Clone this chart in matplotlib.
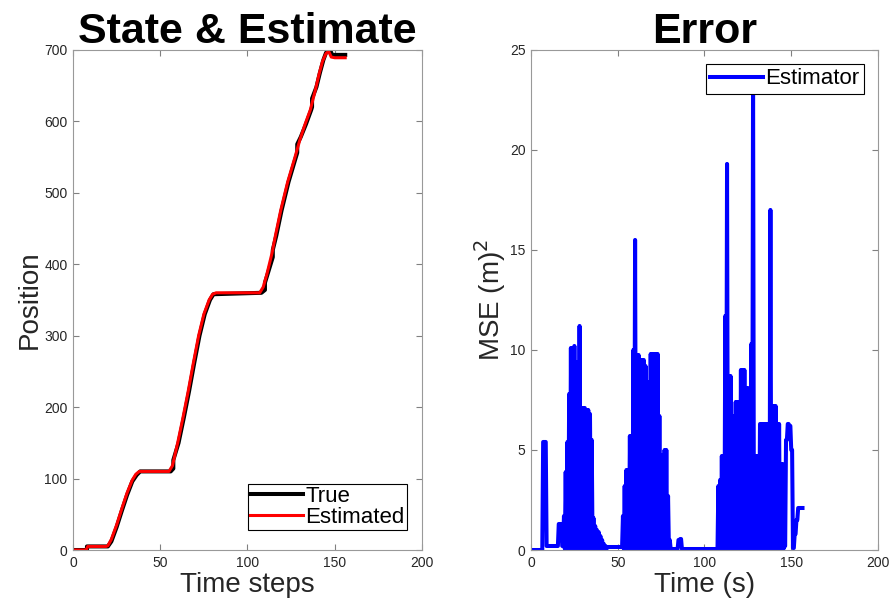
import numpy as np
import matplotlib
matplotlib.use("Agg")
import matplotlib.pyplot as plt

plt.rcParams['font.family'] = ['Liberation Sans', 'DejaVu Sans']

# left panel: true state (black) and estimate (red)
true_t = [0, 8, 8, 20, 22, 25, 28, 31, 34, 36.5, 38.5, 56, 57.5, 57.5, 60.5, 63.5, 66.5,
          69.5, 72.5, 75.5, 78.5, 80.5, 108, 110, 110, 114.5, 114.5, 116.5, 119.5, 123.5,
          127.5, 128.5, 128.5, 130.5, 133.5, 136.5, 137, 137, 139.5, 141.5, 143.5, 145,
          146.5, 147.5, 148.5, 156]
true_pos = [0, 0, 5, 5, 12, 32, 55, 77, 96, 105, 110, 110, 114, 126, 150, 185, 222,
            262, 300, 330, 350, 358, 360, 364, 374, 410, 420, 440, 475, 515,
            548, 556, 568, 578, 596, 616, 620, 632, 648, 668, 686, 696,
            699, 699, 693, 693]

est_t = [0, 7.5, 8.5, 19, 20, 22, 25, 28, 31, 34, 36, 38, 55, 57, 60, 63, 66, 69, 72, 75,
         78, 80, 82, 107, 109, 111, 114, 116, 119, 123, 127, 130, 133, 136, 139, 141, 143,
         145, 146.5, 148, 150, 156]
est_pos = [0, 0, 5, 5, 6, 15, 35, 58, 80, 98, 106, 110, 110, 118, 150, 185, 222, 262, 300, 330,
           350, 358, 360, 360, 368, 385, 415, 440, 475, 515, 548, 574, 596, 616, 645, 666, 684,
           695, 698, 690, 689, 689]

# right panel: MSE per time step (t = 0..156), upper and lower value within each step
mse_high = [0, 0, 0, 0, 0, 0, 0, 5.4, 5.4, 0.2,
            0.2, 0.2, 0.2, 0.2, 0.2, 0.2, 1.3, 1.3, 0.2, 1.7,
            3.9, 5.4, 7.8, 10.1, 10.1, 10.2, 9.4, 7.0, 11.2, 7.1,
            7.1, 7.1, 7.0, 7.0, 6.8, 5.5, 1.6, 1.2, 1.0, 0.9,
            0.7, 0.5, 0.3, 0.2, 0.15, 0.15, 0.15, 0.15, 0.15, 0.15,
            0.15, 0.15, 0.15, 1.7, 3.2, 4.0, 4.0, 5.7, 5.7, 10.0,
            15.5, 9.75, 9.75, 9.5, 9.5, 9.5, 9.2, 8.4, 8.4, 9.8,
            9.8, 9.8, 9.8, 9.8, 6.7, 4.75, 4.75, 5.0, 5.0, 2.7,
            0.5, 0.05, 0.05, 0.05, 0.05, 0.5, 0.55, 0.05, 0.05, 0.05,
            0.05, 0.05, 0.05, 0.05, 0.05, 0.05, 0.05, 0.05, 0.05, 0.05,
            0.05, 0.05, 0.05, 0.05, 0.05, 0.05, 0.05, 0.05, 3.2, 3.5,
            4.7, 4.7, 11.7, 19.3, 8.7, 8.7, 6.7, 6.7, 7.4, 7.4,
            7.4, 9.0, 9.0, 9.0, 8.1, 8.1, 4.7, 10.3, 24.0, 4.7,
            4.7, 4.7, 6.3, 6.3, 6.3, 6.3, 6.3, 6.3, 17.0, 7.2,
            7.2, 7.2, 6.3, 6.3, 4.3, 4.3, 0.2, 5.5, 6.3, 6.2,
            5.0, 0.1, 0.8, 1.5, 2.1, 2.1, 2.1]
mse_low = [0, 0, 0, 0, 0, 0, 0, 5.4, 5.4, 0.2,
           0.2, 0.2, 0.2, 0.2, 0.2, 0.2, 1.3, 1.3, 0.2, 0.05,
           0.05, 0.05, 0.05, 0.05, 0.05, 0.05, 0.05, 0.05, 0.05, 0.05,
           0.05, 0.05, 0.05, 0.05, 0.05, 0.05, 0.05, 0.05, 0.05, 0.05,
           0.05, 0.05, 0.05, 0.05, 0.15, 0.15, 0.15, 0.15, 0.15, 0.15,
           0.15, 0.15, 0.15, 0.05, 0.05, 0.05, 0.05, 0.05, 0.05, 0.05,
           0.05, 0.05, 0.05, 0.05, 0.05, 0.05, 0.05, 0.05, 0.05, 0.05,
           0.05, 0.05, 0.05, 0.05, 0.05, 0.05, 0.05, 0.05, 0.05, 0.05,
           0.05, 0.05, 0.05, 0.05, 0.05, 0.5, 0.55, 0.05, 0.05, 0.05,
           0.05, 0.05, 0.05, 0.05, 0.05, 0.05, 0.05, 0.05, 0.05, 0.05,
           0.05, 0.05, 0.05, 0.05, 0.05, 0.05, 0.05, 0.05, 0.05, 0.05,
           0.05, 0.05, 0.05, 0.05, 0.05, 0.05, 0.05, 0.05, 0.05, 0.05,
           0.05, 0.05, 0.05, 0.05, 0.05, 0.05, 0.05, 0.05, 0.05, 0.05,
           0.05, 0.05, 0.05, 0.05, 0.05, 0.05, 0.05, 0.05, 0.05, 0.05,
           0.05, 0.05, 0.05, 0.05, 0.05, 0.05, 0.2, 5.5, 6.3, 6.2,
           5.0, 0.1, 0.8, 1.5, 2.1, 2.1, 2.1]

# the estimator error swings between the two values inside each step
steps = np.arange(len(mse_high))
mse_t = np.column_stack([steps, steps + 0.5]).ravel()
mse = np.column_stack([mse_high, mse_low]).ravel()


def matlab_axes(ax):
    for s in ax.spines.values():
        s.set_color('0.6')
        s.set_linewidth(0.8)
    ax.tick_params(direction='in', top=True, right=True, length=4, width=0.8,
                   color='0.5', labelsize=10, labelcolor='0.15', pad=4)


fig = plt.figure(figsize=(8.89, 6.04), dpi=100)

ax1 = fig.add_axes([0.0821, 0.0894, 0.3926, 0.828])
ax1.plot(true_t, true_pos, color='black', lw=2.9, label='True')
ax1.plot(est_t, est_pos, color='red', lw=2.2, label='Estimated')
ax1.set_xlim(0, 200)
ax1.set_ylim(0, 700)
ax1.set_xticks([0, 50, 100, 150, 200])
ax1.set_yticks(range(0, 701, 100))
matlab_axes(ax1)
ax1.set_xlabel('Time steps', fontsize=20, color='0.15', labelpad=2)
ax1.set_ylabel('Position', fontsize=20, color='0.15', labelpad=1)
ax1.set_title('State & Estimate', fontsize=31, fontweight='bold', pad=5)
leg1 = ax1.legend(loc='lower right', bbox_to_anchor=(0.957, 0.04), borderaxespad=0,
                  fontsize=16, fancybox=False, edgecolor='black', framealpha=1,
                  handlelength=2.4, handletextpad=0.1, borderpad=0.1, labelspacing=0.0)
leg1.get_frame().set_linewidth(0.8)

ax2 = fig.add_axes([0.5973, 0.0894, 0.3903, 0.828])
ax2.plot(mse_t, mse, color='blue', lw=2.9, label='Estimator')
ax2.set_xlim(0, 200)
ax2.set_ylim(0, 25)
ax2.set_xticks([0, 50, 100, 150, 200])
ax2.set_yticks(range(0, 26, 5))
matlab_axes(ax2)
ax2.set_xlabel('Time (s)', fontsize=20, color='0.15', labelpad=2)
ax2.set_ylabel('MSE (m)$^2$', fontsize=20, color='0.15', labelpad=1)
ax2.set_title('Error', fontsize=31, fontweight='bold', pad=5)
leg2 = ax2.legend(loc='upper right', bbox_to_anchor=(0.96, 0.972), borderaxespad=0,
                  fontsize=16, fancybox=False, edgecolor='black', framealpha=1,
                  handlelength=2.4, handletextpad=0.1, borderpad=0.2)
leg2.get_frame().set_linewidth(0.8)

fig.savefig('out.png', dpi=100)
